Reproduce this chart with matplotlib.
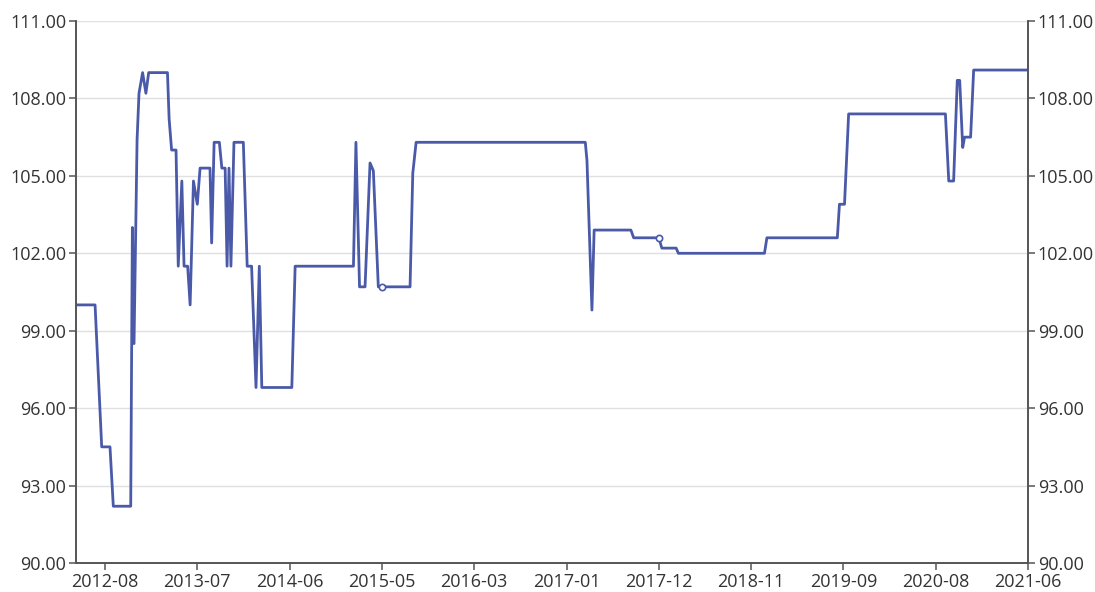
import matplotlib
matplotlib.use("Agg")
import matplotlib.pyplot as plt
import numpy as np
import pandas as pd

# category-style x axis: labels sit at equal spacing
tick_labels = ["2012-08", "2013-07", "2014-06", "2015-05", "2016-03", "2017-01",
               "2017-12", "2018-11", "2019-09", "2020-08", "2021-06"]

dates = ["2012-04-18", "2012-06-26", "2012-07-20", "2012-08-19", "2012-08-31",
         "2012-11-02", "2012-11-08", "2012-11-14", "2012-11-25", "2012-12-02",
         "2012-12-15", "2012-12-27", "2013-01-06", "2013-03-15", "2013-03-21",
         "2013-03-30", "2013-04-15", "2013-04-23", "2013-05-06", "2013-05-14",
         "2013-05-27", "2013-06-05", "2013-06-17", "2013-07-01", "2013-07-11",
         "2013-08-16", "2013-08-22", "2013-08-31", "2013-09-19", "2013-09-28",
         "2013-10-10", "2013-10-17", "2013-10-24", "2013-10-31", "2013-11-11",
         "2013-12-15", "2013-12-29", "2014-01-14", "2014-01-30", "2014-02-11",
         "2014-02-20", "2014-06-09", "2014-06-21", "2015-01-18", "2015-01-27",
         "2015-02-09", "2015-03-01", "2015-03-19", "2015-03-31", "2015-04-18",
         "2015-08-02", "2015-08-11", "2015-08-22", "2017-03-10", "2017-03-16",
         "2017-04-03", "2017-04-11", "2017-08-22", "2017-09-01", "2017-12-01",
         "2017-12-12", "2018-02-02", "2018-02-10", "2018-12-15", "2018-12-23",
         "2019-08-12", "2019-08-19", "2019-09-05", "2019-09-20", "2020-09-02",
         "2020-09-13", "2020-09-29", "2020-10-11", "2020-10-19", "2020-10-29",
         "2020-11-04", "2020-11-24", "2020-12-04", "2021-06-01"]

values = [100.0, 100.0, 94.5, 94.5, 92.2,
          92.2, 103.0, 98.5, 106.4, 108.2,
          109.0, 108.2, 109.0, 109.0, 107.2,
          106.0, 106.0, 101.5, 104.8, 101.5,
          101.5, 100.0, 104.8, 103.9, 105.3,
          105.3, 102.4, 106.3, 106.3, 105.3,
          105.3, 101.5, 105.3, 101.5, 106.3,
          106.3, 101.5, 101.5, 96.8, 101.5,
          96.8, 96.8, 101.5, 101.5, 106.3,
          100.7, 100.7, 105.5, 105.2, 100.7,
          100.7, 105.1, 106.3, 106.3, 105.6,
          99.8, 102.9, 102.9, 102.6, 102.6,
          102.2, 102.2, 102.0, 102.0, 102.6,
          102.6, 103.9, 103.9, 107.4, 107.4,
          104.8, 104.8, 108.7, 108.7, 106.1,
          106.5, 106.5, 109.1, 109.1]

marker_dates = ["2015-05-01", "2017-12-01"]
marker_values = [100.7, 102.6]

LINE = "#4a5aa8"
AXIS = "#555555"

tick_ord = pd.to_datetime([t + "-01" for t in tick_labels]).map(pd.Timestamp.toordinal).to_numpy()


def to_pos(ds):
    o = pd.to_datetime(ds).map(pd.Timestamp.toordinal).to_numpy().astype(float)
    pos = np.interp(o, tick_ord, np.arange(len(tick_ord)))
    early = o < tick_ord[0]
    pos[early] = (o[early] - tick_ord[0]) / (tick_ord[1] - tick_ord[0])
    return pos


x = to_pos(dates)
xm = to_pos(marker_dates)

plt.rcParams["font.family"] = ["Open Sans", "DejaVu Sans"]

fig = plt.figure(figsize=(10.95, 5.92), dpi=100)
ax = fig.add_axes([76 / 1095, 1 - 563 / 592, (1028 - 76) / 1095, (563 - 21) / 592])

ax.plot(x, values, color=LINE, lw=2.0, solid_joinstyle="round", zorder=3)
ax.plot(xm, marker_values, "o", ms=4.5, mfc="white", mec=LINE, mew=1.2, zorder=4)

yt = np.arange(90, 112, 3)
ax.set_ylim(90, 111)
ax.set_xlim(x[0], len(tick_labels) - 1)
ax.set_yticks(yt)
ax.set_yticklabels([f"{v:.2f}" for v in yt])
ax.set_xticks(np.arange(len(tick_labels)))
ax.set_xticklabels(tick_labels)
ax.grid(axis="y", color="#e0e0e0", lw=1)
ax.set_axisbelow(True)

ax2 = ax.twinx()
ax2.set_ylim(90, 111)
ax2.set_yticks(yt)
ax2.set_yticklabels([f"{v:.2f}" for v in yt])

for a in (ax, ax2):
    a.spines["top"].set_visible(False)
    for s in ("left", "right", "bottom"):
        a.spines[s].set_color(AXIS)
        a.spines[s].set_linewidth(1.2)
    a.tick_params(colors=AXIS, labelcolor="#333333", labelsize=13, length=5, width=1.1, pad=2)

fig.savefig("out.png", dpi=100, facecolor="white")
